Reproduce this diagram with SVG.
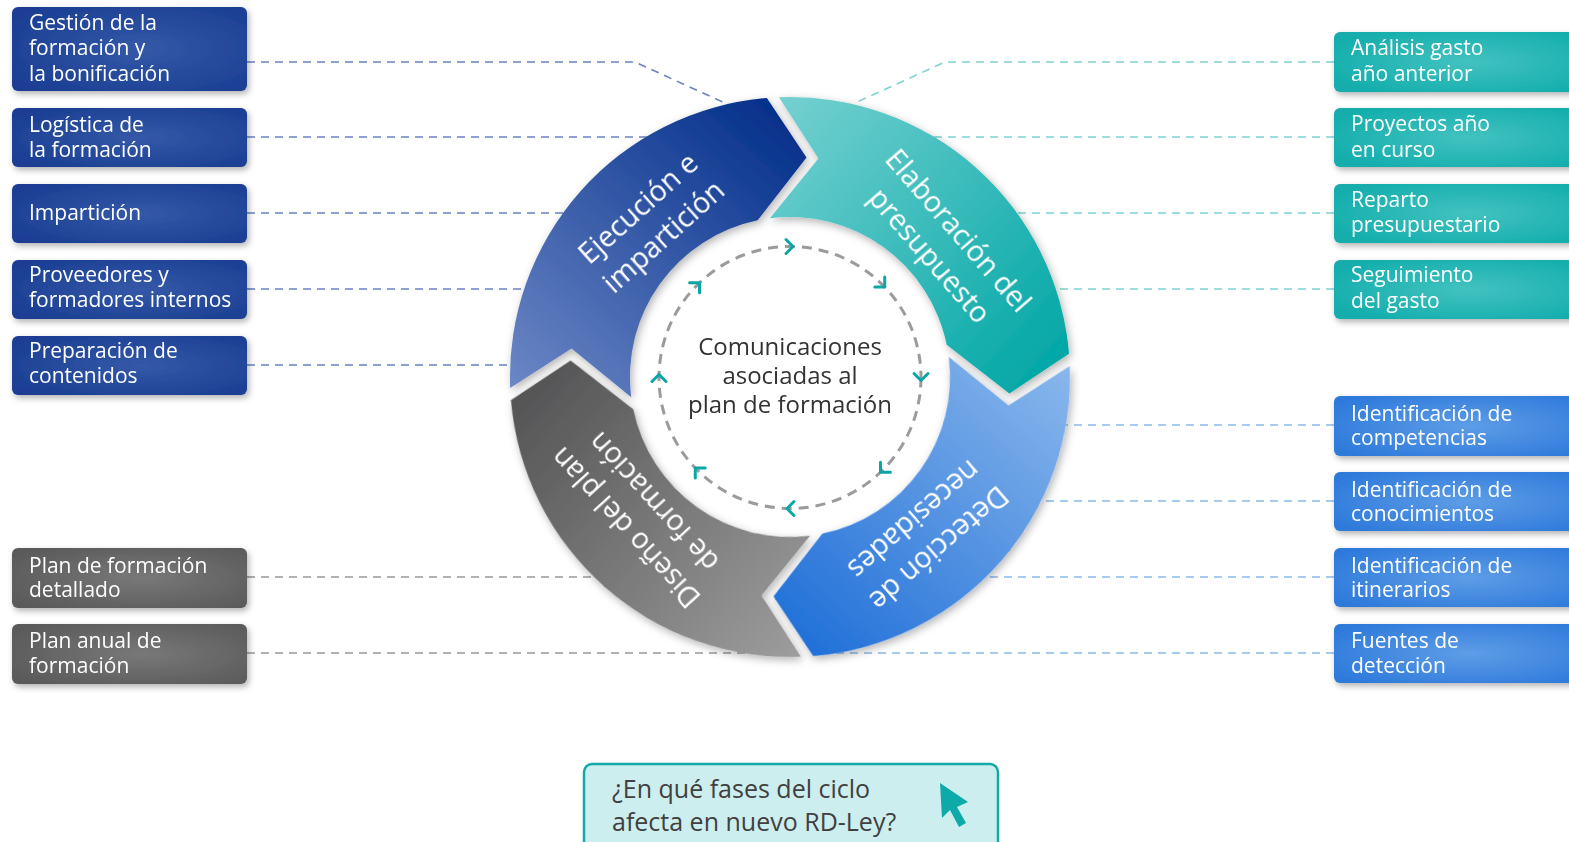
<svg xmlns="http://www.w3.org/2000/svg" width="1569" height="842" viewBox="0 0 1569 842">
<style>
.bt{font-family:"Open Sans","Noto Sans","Liberation Sans",sans-serif;font-size:21px;fill:#fff}
.st{font-family:"Open Sans","Noto Sans","Liberation Sans",sans-serif;font-size:28.5px;fill:#fff;text-anchor:middle}
.ct{font-family:"Open Sans","Noto Sans","Liberation Sans",sans-serif;font-size:24px;fill:#333;text-anchor:middle}
.qt{font-family:"Open Sans","Noto Sans","Liberation Sans",sans-serif;font-size:25px;fill:#404040}
.dl{fill:none;stroke-width:1.6;stroke-dasharray:8 6}
.lb{stroke:#6a82c0}.lt{stroke:#7fd2d2}.ll{stroke:#8cb9ea}.lg{stroke:#9a9a9a}
.chev{fill:none;stroke:#0aa6a6;stroke-width:3;stroke-linecap:round;stroke-linejoin:round}
</style>
<defs>
<filter id="sh" x="-10%" y="-10%" width="130%" height="130%"><feDropShadow dx="2" dy="3" stdDeviation="3" flood-color="#000" flood-opacity="0.3"/></filter>
<filter id="rs" x="-10%" y="-10%" width="120%" height="120%"><feDropShadow dx="2" dy="3" stdDeviation="4" flood-color="#000" flood-opacity="0.3"/></filter>
<radialGradient id="gB" cx="55%" cy="50%" r="65%"><stop offset="0" stop-color="#3459a7"/><stop offset="1" stop-color="#1a3e93"/></radialGradient>
<radialGradient id="gT" cx="55%" cy="50%" r="65%"><stop offset="0" stop-color="#42c2c0"/><stop offset="1" stop-color="#12adac"/></radialGradient>
<radialGradient id="gL" cx="55%" cy="50%" r="65%"><stop offset="0" stop-color="#5e9de6"/><stop offset="1" stop-color="#2e7adb"/></radialGradient>
<radialGradient id="gG" cx="55%" cy="50%" r="65%"><stop offset="0" stop-color="#787878"/><stop offset="1" stop-color="#5a5a5a"/></radialGradient>
<linearGradient id="sB" gradientUnits="userSpaceOnUse" x1="-250" y1="60" x2="-10" y2="-250"><stop offset="0" stop-color="#6d88c6"/><stop offset="1" stop-color="#04308b"/></linearGradient>
<linearGradient id="sT" gradientUnits="userSpaceOnUse" x1="-250" y1="60" x2="-10" y2="-250"><stop offset="0" stop-color="#77d1d1"/><stop offset="1" stop-color="#01a7a6"/></linearGradient>
<linearGradient id="sL" gradientUnits="userSpaceOnUse" x1="-250" y1="60" x2="-10" y2="-250"><stop offset="0" stop-color="#8bb8ec"/><stop offset="1" stop-color="#2170d8"/></linearGradient>
<linearGradient id="sG" gradientUnits="userSpaceOnUse" x1="-250" y1="60" x2="-10" y2="-250"><stop offset="0" stop-color="#9e9e9e"/><stop offset="1" stop-color="#545455"/></linearGradient>
<path id="seg" d="M -278.2,32 A 280 280 0 0 1 -44,-276.5 L 0,-220 L -44,-153.8 A 160 160 0 0 0 -156.8,32 L -220,-12 Z"/>
<polyline id="cv" points="-4,-7 3,0 -4,7"/>
</defs>
<rect width="1569" height="842" fill="#fff"/>

<g id="connectors">
<polyline class="dl lb" points="247,62 635,62 727,104"/>
<line class="dl lb" x1="247" y1="137" x2="650" y2="137"/>
<line class="dl lb" x1="247" y1="213" x2="566" y2="213"/>
<line class="dl lb" x1="247" y1="289" x2="527" y2="289"/>
<line class="dl lb" x1="247" y1="365" x2="512" y2="365"/>
<line class="dl lg" x1="247" y1="577" x2="597" y2="577"/>
<line class="dl lg" x1="247" y1="653" x2="795" y2="653"/>
<polyline class="dl lt" points="1334,62 945,62 855,103"/>
<line class="dl lt" x1="1334" y1="137" x2="930" y2="137"/>
<line class="dl lt" x1="1334" y1="213" x2="1014" y2="213"/>
<line class="dl lt" x1="1334" y1="289" x2="1053" y2="289"/>
<line class="dl ll" x1="1334" y1="425" x2="1064" y2="425"/>
<line class="dl ll" x1="1334" y1="501" x2="1039" y2="501"/>
<line class="dl ll" x1="1334" y1="577" x2="983" y2="577"/>
<line class="dl ll" x1="1334" y1="653" x2="815" y2="653"/>
</g>

<g id="ring" filter="url(#rs)">
<g transform="translate(790,377) rotate(4.3)">
<use id="seg-ejecucion" href="#seg" fill="url(#sB)"/>
<use id="seg-elaboracion" href="#seg" fill="url(#sT)" transform="rotate(90)"/>
<use id="seg-deteccion" href="#seg" fill="url(#sL)" transform="rotate(180)"/>
<use id="seg-diseno" href="#seg" fill="url(#sG)" transform="rotate(270)"/>
</g>
</g>

<g id="ring-labels">
<g transform="translate(790,377) rotate(-132)"><text class="st" transform="translate(217,0) rotate(90)">Ejecución e</text><text class="st" transform="translate(179,0) rotate(90)">impartición</text></g>
<g transform="translate(790,377) rotate(-41)"><text class="st" transform="translate(213,0) rotate(90)">Elaboración del</text><text class="st" transform="translate(175,0) rotate(90)">presupuesto</text></g>
<g transform="translate(790,377) rotate(49)"><text class="st" transform="translate(217,0) rotate(90)">Detección de</text><text class="st" transform="translate(179,0) rotate(90)">necesidades</text></g>
<g transform="translate(790,377) rotate(137.5)"><text class="st" transform="translate(213,0) rotate(90)">Diseño del plan</text><text class="st" transform="translate(175,0) rotate(90)">de formación</text></g>
</g>

<g id="center">
<circle cx="790" cy="377.5" r="131" fill="none" stroke="#9b9b9b" stroke-width="3" stroke-dasharray="10 7"/>
<g class="chev">
<use href="#cv" transform="translate(790,246.5) rotate(0)"/>
<use href="#cv" transform="translate(882.6,284.9) rotate(45)"/>
<use href="#cv" transform="translate(921,377.5) rotate(90)"/>
<use href="#cv" transform="translate(882.6,470.1) rotate(135)"/>
<use href="#cv" transform="translate(790,508.5) rotate(180)"/>
<use href="#cv" transform="translate(697.4,470.1) rotate(225)"/>
<use href="#cv" transform="translate(659,377.5) rotate(270)"/>
<use href="#cv" transform="translate(697.4,284.9) rotate(315)"/>
</g>
<text class="ct" x="790" y="355">Comunicaciones</text>
<text class="ct" x="790" y="384">asociadas al</text>
<text class="ct" x="790" y="413">plan de formación</text>
</g>

<g id="box-gestion" filter="url(#sh)"><rect x="12" y="7" width="235" height="84" rx="6" fill="url(#gB)"/><text class="bt" x="29" y="29.5">Gestión de la</text><text class="bt" x="29" y="55">formación y</text><text class="bt" x="29" y="81">la bonificación</text></g>
<g id="box-logistica" filter="url(#sh)"><rect x="12" y="108" width="235" height="59" rx="6" fill="url(#gB)"/><text class="bt" x="29" y="131.5">Logística de</text><text class="bt" x="29" y="156.5">la formación</text></g>
<g id="box-imparticion" filter="url(#sh)"><rect x="12" y="184" width="235" height="59" rx="6" fill="url(#gB)"/><text class="bt" x="29" y="220">Impartición</text></g>
<g id="box-proveedores" filter="url(#sh)"><rect x="12" y="260" width="235" height="59" rx="6" fill="url(#gB)"/><text class="bt" x="29" y="281.5">Proveedores y</text><text class="bt" x="29" y="306.5">formadores internos</text></g>
<g id="box-preparacion" filter="url(#sh)"><rect x="12" y="336" width="235" height="59" rx="6" fill="url(#gB)"/><text class="bt" x="29" y="358">Preparación de</text><text class="bt" x="29" y="383">contenidos</text></g>
<g id="box-plan-detallado" filter="url(#sh)"><rect x="12" y="548" width="235" height="60" rx="6" fill="url(#gG)"/><text class="bt" x="29" y="573">Plan de formación</text><text class="bt" x="29" y="597">detallado</text></g>
<g id="box-plan-anual" filter="url(#sh)"><rect x="12" y="624" width="235" height="60" rx="6" fill="url(#gG)"/><text class="bt" x="29" y="648">Plan anual de</text><text class="bt" x="29" y="673">formación</text></g>

<g id="box-analisis" filter="url(#sh)"><rect x="1334" y="32" width="245" height="60" rx="6" fill="url(#gT)"/><text class="bt" x="1351" y="55">Análisis gasto</text><text class="bt" x="1351" y="81">año anterior</text></g>
<g id="box-proyectos" filter="url(#sh)"><rect x="1334" y="108" width="245" height="59" rx="6" fill="url(#gT)"/><text class="bt" x="1351" y="131">Proyectos año</text><text class="bt" x="1351" y="156.5">en curso</text></g>
<g id="box-reparto" filter="url(#sh)"><rect x="1334" y="184" width="245" height="59" rx="6" fill="url(#gT)"/><text class="bt" x="1351" y="206.5">Reparto</text><text class="bt" x="1351" y="232">presupuestario</text></g>
<g id="box-seguimiento" filter="url(#sh)"><rect x="1334" y="260" width="245" height="59" rx="6" fill="url(#gT)"/><text class="bt" x="1351" y="282">Seguimiento</text><text class="bt" x="1351" y="308">del gasto</text></g>
<g id="box-competencias" filter="url(#sh)"><rect x="1334" y="396" width="245" height="60" rx="6" fill="url(#gL)"/><text class="bt" x="1351" y="421">Identificación de</text><text class="bt" x="1351" y="445">competencias</text></g>
<g id="box-conocimientos" filter="url(#sh)"><rect x="1334" y="472" width="245" height="59" rx="6" fill="url(#gL)"/><text class="bt" x="1351" y="496.5">Identificación de</text><text class="bt" x="1351" y="520.5">conocimientos</text></g>
<g id="box-itinerarios" filter="url(#sh)"><rect x="1334" y="548" width="245" height="59" rx="6" fill="url(#gL)"/><text class="bt" x="1351" y="572.5">Identificación de</text><text class="bt" x="1351" y="596.5">itinerarios</text></g>
<g id="box-fuentes" filter="url(#sh)"><rect x="1334" y="624" width="245" height="59" rx="6" fill="url(#gL)"/><text class="bt" x="1351" y="648">Fuentes de</text><text class="bt" x="1351" y="673">detección</text></g>

<g id="question">
<rect x="584" y="764" width="414" height="95" rx="8" fill="#cdeeee" stroke="#12a9a8" stroke-width="2.5"/>
<text class="qt" x="612" y="798">¿En qué fases del ciclo</text>
<text class="qt" x="612" y="831">afecta en nuevo RD-Ley?</text>
<polygon points="940,783 942,818 950,810 959,827 966,823 957,807 968,802" fill="#0ea9a9"/>
</g>
</svg>
